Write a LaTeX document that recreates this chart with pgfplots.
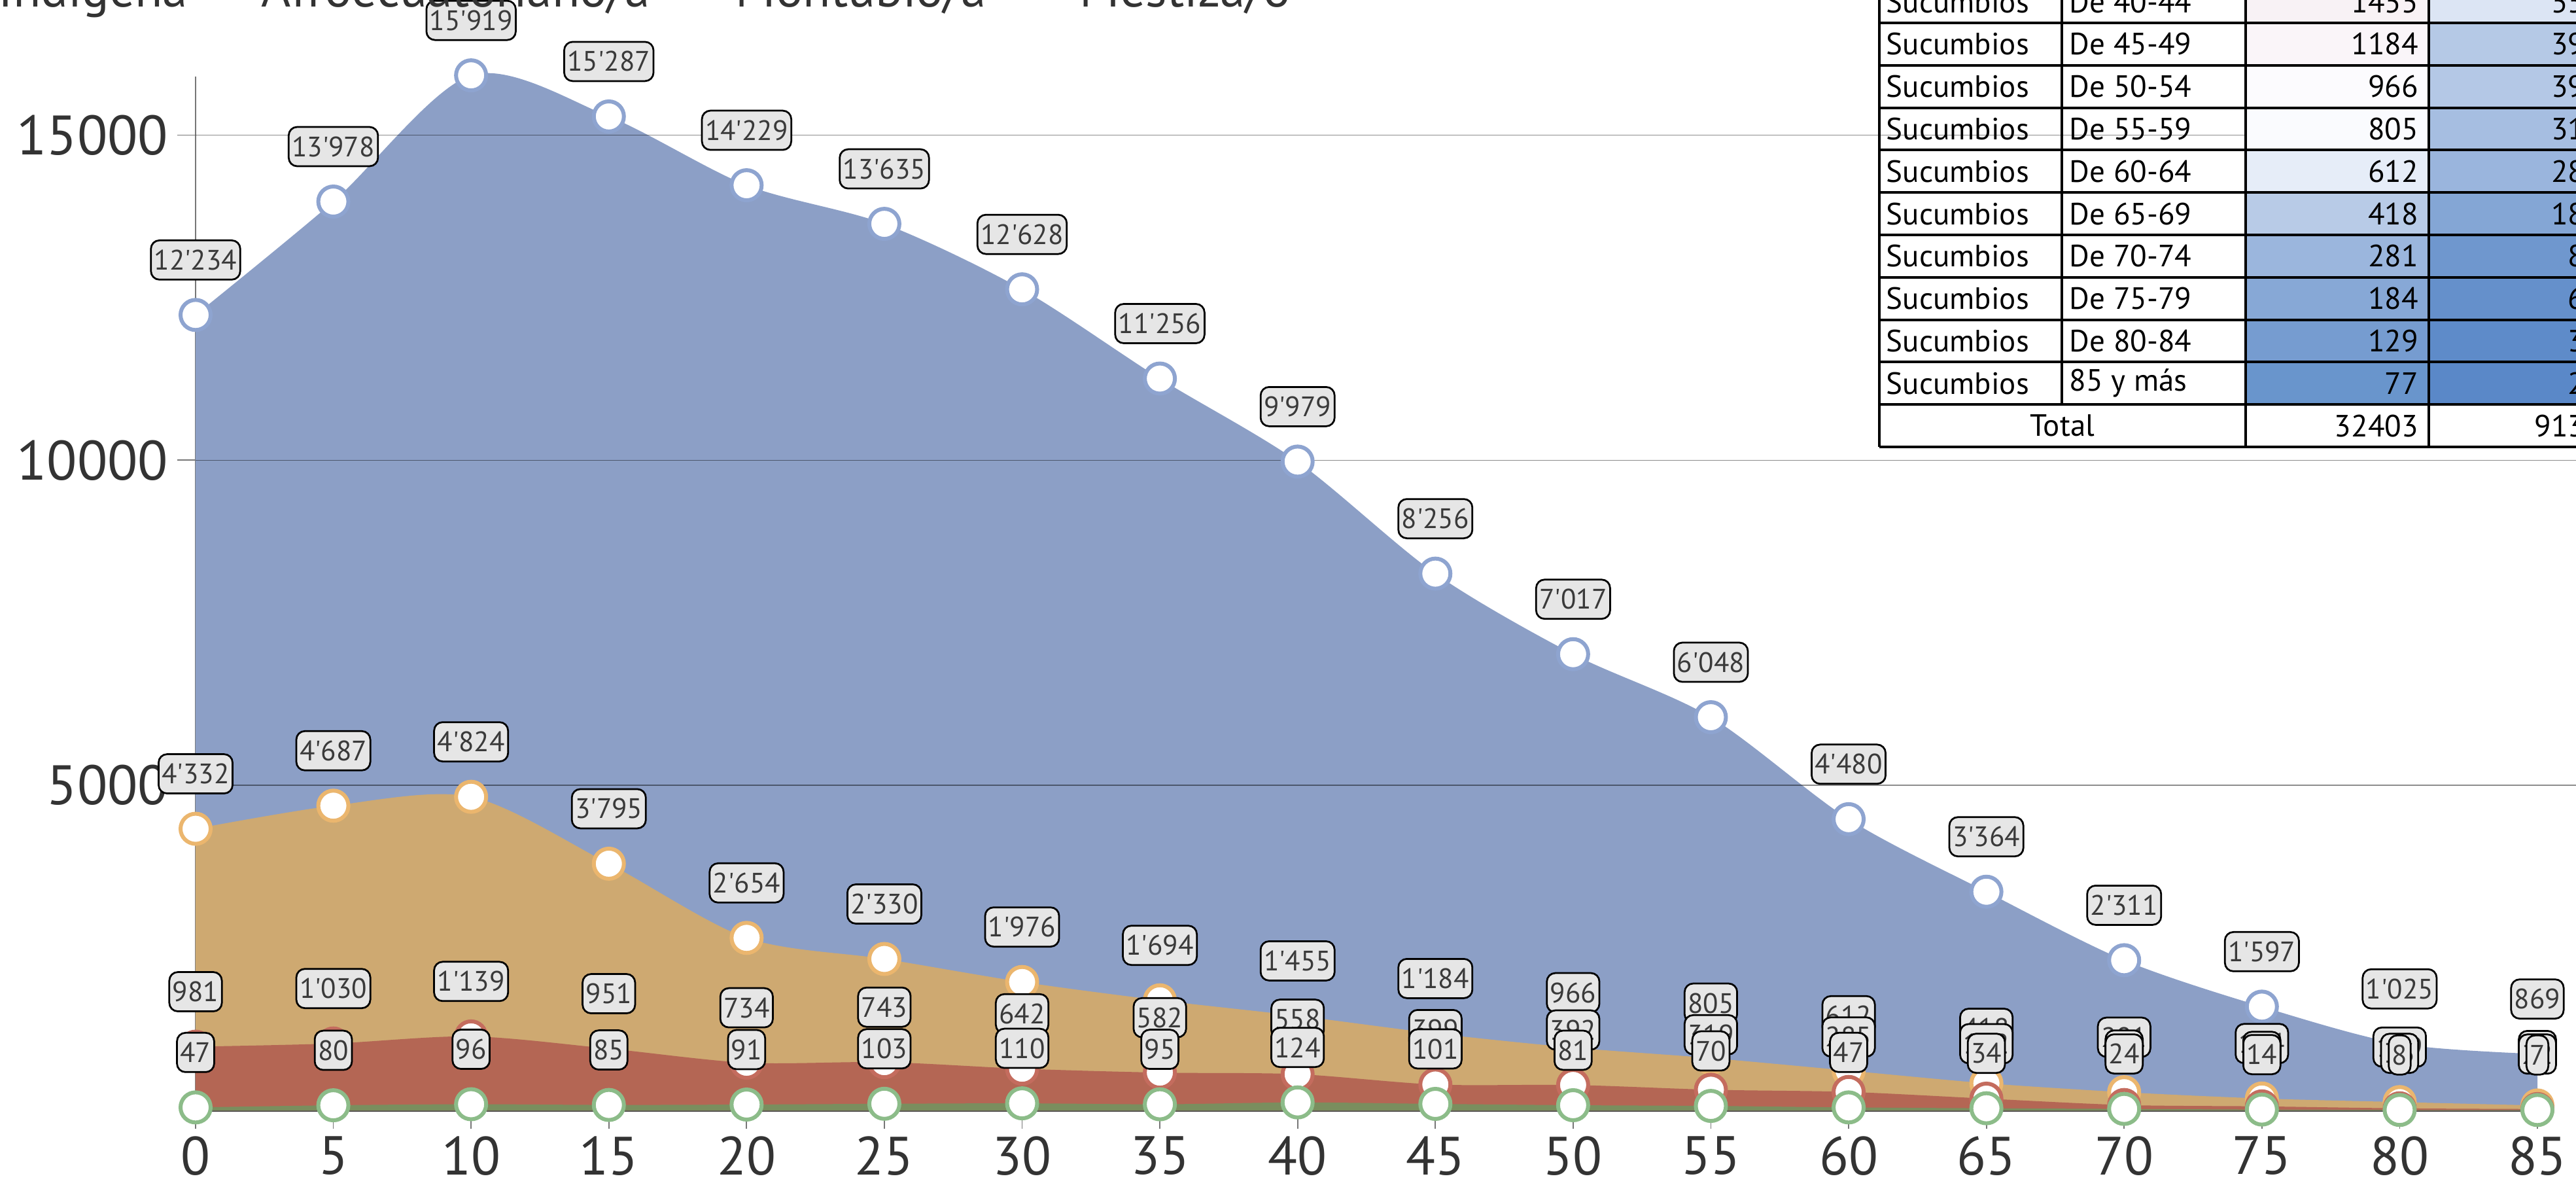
\documentclass[border=0pt]{standalone}
\usepackage{pgfplots}
\pgfplotsset{compat=1.18}
\usepackage{pgfplotstable}
\usepackage{fontspec}
\setmainfont{PT Sans}

\definecolor{cblue}{HTML}{8C9FC6}
\definecolor{mblue}{HTML}{8EA4D0}
\definecolor{corange}{HTML}{CEA971}
\definecolor{morange}{HTML}{EBB66E}
\definecolor{cred}{HTML}{B46654}
\definecolor{mred}{HTML}{C46C5E}
\definecolor{cgreen}{HTML}{7A8E5E}
\definecolor{mgreen}{HTML}{8CBC89}
\definecolor{textgray}{HTML}{333333}
\definecolor{lbltext}{HTML}{3A3A3A}
\definecolor{lblfill}{HTML}{E6E6E6}
\definecolor{axisdark}{HTML}{444444}
\definecolor{axisgray}{HTML}{777777}
\definecolor{ta0}{HTML}{F8F2F5}\definecolor{tb0}{HTML}{DCE5F4}
\definecolor{ta1}{HTML}{FAF5F9}\definecolor{tb1}{HTML}{B5C9E6}
\definecolor{ta2}{HTML}{FCFBFE}\definecolor{tb2}{HTML}{B4C8E6}
\definecolor{ta3}{HTML}{FAFBFE}\definecolor{tb3}{HTML}{A6BEE1}
\definecolor{ta4}{HTML}{E6EDF8}\definecolor{tb4}{HTML}{9AB5DD}
\definecolor{ta5}{HTML}{B8CBE7}\definecolor{tb5}{HTML}{84A6D5}
\definecolor{ta6}{HTML}{9BB6DD}\definecolor{tb6}{HTML}{6F97CE}
\definecolor{ta7}{HTML}{87A8D6}\definecolor{tb7}{HTML}{6590CB}
\definecolor{ta8}{HTML}{769CD0}\definecolor{tb8}{HTML}{5E8BC9}
\definecolor{ta9}{HTML}{6995CC}\definecolor{tb9}{HTML}{5A88C8}

\pgfplotstableread{
x y
0 12234
5 13978
10 15919
15 15287
20 14229
25 13635
30 12628
35 11256
40 9979
45 8256
50 7017
55 6048
60 4480
65 3364
70 2311
75 1597
80 1025
85 869
}\tblue

\pgfplotstableread{
x y
0 4332
5 4687
10 4824
15 3795
20 2654
25 2330
30 1976
35 1694
40 1455
45 1184
50 966
55 805
60 612
65 418
70 281
75 184
80 129
85 77
}\torange

\pgfplotstableread{
x y
0 981
5 1030
10 1139
15 951
20 734
25 743
30 642
35 582
40 558
45 399
50 392
55 319
60 285
65 182
70 84
75 63
80 33
85 22
}\tred

\pgfplotstableread{
x y
0 47
5 80
10 96
15 85
20 91
25 103
30 110
35 95
40 124
45 101
50 81
55 70
60 47
65 34
70 24
75 14
80 8
85 7
}\tgreen

\pgfplotsset{
  myarea/.style={draw=none, fill=#1, smooth, mark=none},
  mymk/.style={draw=none, only marks, mark=*, mark size=4.6pt,
    mark options={fill=white, draw=#1, line width=1.2pt}},
  mylbl/.style={draw=none, mark=none,
    nodes near coords={\pgfmathprintnumber[fixed,precision=0,1000 sep={\textquotesingle}]{\pgfplotspointmeta}},
    every node near coord/.append style={anchor=center, yshift=16.8pt,
      font=\fontsize{8.6}{10}\selectfont, text=lbltext, fill=lblfill,
      draw=black, line width=0.55pt, rounded corners=2.6pt,
      inner xsep=1.0pt, inner ysep=0pt, minimum height=12pt}},
}

\newcommand{\trow}[6]{%
  \fill[ta#1] (3433,{35+64.8*(#1-1)}) rectangle (3713,{35+64.8*#1});
  \fill[tb#1] (3713,{35+64.8*(#1-1)}) rectangle (3993,{35+64.8*#1});
  \node[anchor=west] at (2883,{35+64.8*(#1-1)+32.4}) {Sucumbios};
  \node[anchor=west] at (3163,{35+64.8*(#1-1)+32.4}) {#2};
  \node[anchor=east] at (3698,{35+64.8*(#1-1)+32.4}) {#3};
  \node[anchor=east] at (3978,{35+64.8*(#1-1)+32.4}) {#4};
}

\begin{document}
\begin{tikzpicture}
\useasboundingbox (0,0) rectangle (787.6pt,-362.6pt);
\begin{axis}[
  at={(59.8pt,-339.4pt)}, anchor=south west,
  scale only axis, width=716pt, height=316pt,
  xmin=0, xmax=85, ymin=0, ymax=15900,
  axis x line*=bottom, axis y line*=left,
  xtick={0,5,...,85}, ytick={5000,10000,15000},
  scaled y ticks=false,
  tick align=outside, major tick length=5.6pt,
  x axis line style={draw=axisdark, line width=0.6pt},
  y axis line style={draw=axisgray, line width=0.35pt},
  tick style={draw=axisgray, line width=0.35pt},
  ticklabel style={font=\fontsize{17}{20}\selectfont, text=textgray, inner sep=0pt},
  xticklabel style={yshift=-2.2pt, font=\fontsize{16.5}{19}\selectfont},
  yticklabel style={xshift=-2.6pt, /pgf/number format/1000 sep={}},
  /pgf/number format/assume math mode=true,
  clip=false,
]
\addplot[myarea=cblue] table {\tblue} \closedcycle;
\addplot[myarea=corange] table {\torange} \closedcycle;
\addplot[myarea=cred] table {\tred} \closedcycle;
\addplot[myarea=cgreen] table {\tgreen} \closedcycle;

\draw[black, opacity=0.45, line width=0.3pt] (axis cs:0,5000) -- (axis cs:88,5000);
\draw[black, opacity=0.45, line width=0.3pt] (axis cs:0,10000) -- (axis cs:88,10000);
\draw[black, opacity=0.45, line width=0.3pt] (axis cs:0,15000) -- (axis cs:88,15000);

\addplot[mymk=mblue] table {\tblue};
\addplot[mymk=morange] table {\torange};
\addplot[mymk=mred] table {\tred};
\addplot[mymk=mgreen] table {\tgreen};

\addplot[mylbl] table {\tblue};
\addplot[mylbl] table {\torange};
\addplot[mylbl] table {\tred};
\addplot[mylbl] table {\tgreen};
\end{axis}

\begin{scope}[x=0.2pt,y=-0.2pt]
\begin{scope}[every node/.style={anchor=base west, inner sep=0pt, text=textgray, font=\fontsize{15.5}{18}\selectfont}]
\node at (-3,10) {Indígena};
\node at (399,10) {Afroecuatoriano/a};
\node at (1124,10) {Montubio/a};
\node at (1650,10) {Mestiza/o};
\end{scope}
\begin{scope}[every node/.style={inner sep=0pt, font=\fontsize{9.4}{11}\selectfont, text=black}]
\trow{0}{De 40-44}{1455}{558}{}{}
\trow{1}{De 45-49}{1184}{399}{}{}
\trow{2}{De 50-54}{966}{392}{}{}
\trow{3}{De 55-59}{805}{319}{}{}
\trow{4}{De 60-64}{612}{285}{}{}
\trow{5}{De 65-69}{418}{182}{}{}
\trow{6}{De 70-74}{281}{84}{}{}
\trow{7}{De 75-79}{184}{63}{}{}
\trow{8}{De 80-84}{129}{33}{}{}
\trow{9}{85 y más}{77}{22}{}{}
\node at (3153,650.6) {Total};
\node[anchor=east] at (3698,650.6) {32403};
\node[anchor=east] at (3978,650.6) {9139};
\end{scope}
\foreach \yy in {-29.8,35,99.8,164.6,229.4,294.2,359,423.8,488.6,553.4,618.2,683}{
  \draw[black, line width=0.8pt] (2873,\yy) -- (3993,\yy);
}
\draw[black, line width=0.8pt] (2873,-40) -- (2873,683.4);
\draw[black, line width=0.8pt] (3152,-40) -- (3152,618.2);
\draw[black, line width=0.8pt] (3433,-40) -- (3433,683.4);
\draw[black, line width=0.8pt] (3713,-40) -- (3713,683.4);
\end{scope}
\end{tikzpicture}
\end{document}
